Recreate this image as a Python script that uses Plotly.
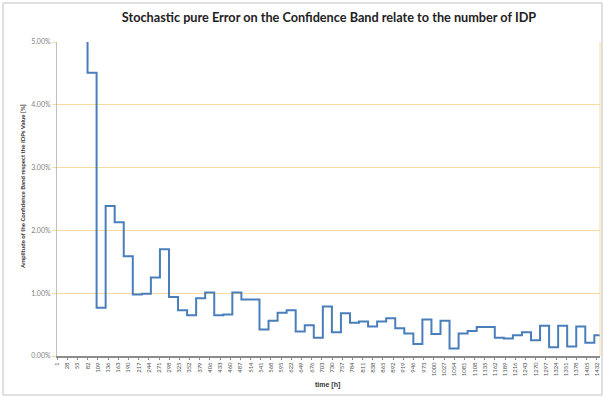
import plotly.graph_objects as go

# ---- data ----
# start hour of each daily step (category index on the time axis)
step_start_hours = list(range(58, 1440, 24))
# amplitude of confidence band per step, in percent (first value off-scale, clipped)
amplitude_pct = [
    7.00, 4.51, 0.77, 2.39, 2.13, 1.59, 0.98, 0.99, 1.25, 1.70,
    0.94, 0.73, 0.65, 0.92, 1.01, 0.65, 0.66, 1.01, 0.90, 0.90,
    0.42, 0.56, 0.69, 0.73, 0.39, 0.49, 0.29, 0.79, 0.38, 0.68,
    0.53, 0.55, 0.47, 0.55, 0.60, 0.44, 0.36, 0.19, 0.58, 0.35,
    0.56, 0.12, 0.36, 0.40, 0.46, 0.46, 0.29, 0.28, 0.33, 0.38,
    0.25, 0.48, 0.14, 0.48, 0.15, 0.47, 0.21, 0.33,
]
x_tick_labels = [1, 28, 55, 82, 109, 136, 163, 190, 217, 244, 271, 298, 325, 352,
                 379, 406, 433, 460, 487, 514, 541, 568, 595, 622, 649, 676, 703,
                 730, 757, 784, 811, 838, 865, 892, 919, 946, 973, 1000, 1027, 1054,
                 1081, 1108, 1135, 1162, 1189, 1216, 1243, 1270, 1297, 1324, 1351,
                 1378, 1405, 1432]
y_ticks = [0, 0.01, 0.02, 0.03, 0.04, 0.05]
last_hour = 1440

title_text = "Stochastic pure Error on the Confidence Band relate to the number of IDP"
y_title = "Amplitude of the Confidence Band respect the IDPs Value [%]"
x_title = "time [h]"

n = min(len(step_start_hours), len(amplitude_pct))
xs = [h - 0.5 for h in step_start_hours[:n]] + [last_hour + 0.5]
ys = [v / 100 for v in amplitude_pct[:n]] + [amplitude_pct[n - 1] / 100]

fig = go.Figure()
fig.add_trace(go.Scatter(
    x=xs, y=ys, mode="lines", line_shape="hv",
    line=dict(color="#4a7ebb", width=2),
    showlegend=False, hoverinfo="skip",
))

W, H = 603, 397
L, R, T, B = 57, 3, 42, 41
pw, ph = W - L - R, H - T - B

fig.update_layout(
    width=W, height=H,
    margin=dict(l=L, r=R, t=T, b=B, autoexpand=False),
    paper_bgcolor="white", plot_bgcolor="white",
    font=dict(family="Lato, Liberation Sans, sans-serif", color="#595959"),
    title=dict(text="<b>" + title_text + "</b>", x=329 / W, xref="container",
               xanchor="center", y=1 - 18 / H, yref="container", yanchor="middle",
               font=dict(size=12.7, color="#222222", family="Lato, sans-serif")),
    xaxis=dict(
        range=[0.5, last_hour + 0.5], tickmode="array",
        tickvals=x_tick_labels, ticktext=[str(v) for v in x_tick_labels],
        tickangle=-90, tickfont=dict(size=6, color="#555555"),
        showgrid=False, zeroline=False, automargin=False,
        showline=True, linecolor="#8c8c8c", linewidth=2,
        ticks="outside", ticklen=2, tickcolor="#8c8c8c",
        mirror=False,
    ),
    yaxis=dict(
        range=[0, 0.05], tickmode="array", tickvals=y_ticks,
        tickformat=".2%", tickfont=dict(size=7, color="#7f7f7f"),
        showgrid=True, gridcolor="#f6dc9e", gridwidth=1, automargin=False,
        zeroline=False, showline=True, linecolor="#bfbfbf", linewidth=1,
        ticks="outside", ticklen=4, tickcolor="#f6dc9e",
    ),
    annotations=[
        dict(text="<b>" + x_title + "</b>", xref="paper", yref="paper",
             x=(327 - L) / pw, y=(H - B - 385) / ph, showarrow=False,
             xanchor="center", yanchor="middle",
             font=dict(size=7, color="#333333", family="Liberation Sans, sans-serif")),
        dict(text="<b>" + y_title + "</b>", xref="paper", yref="paper",
             x=(22 - L) / pw, y=(H - B - 187) / ph, showarrow=False,
             textangle=-90, xanchor="center", yanchor="middle",
             font=dict(size=6, color="#333333")),
    ],
    shapes=[
        dict(type="line", xref="paper", yref="paper", x0=1, x1=1, y0=0, y1=1,
             line=dict(color="#f6dc9e", width=1)),
        dict(type="rect", xref="paper", yref="paper",
             x0=(3 - L) / pw, x1=(W - 1 - L) / pw,
             y0=(H - B - 395) / ph, y1=(H - B - 3) / ph,
             line=dict(color="#c0c0c0", width=1), layer="above"),
    ],
)

fig.write_html(
    "out.html",
    config={"displayModeBar": False},
    post_script="document.body.style.margin='0';document.body.style.padding='0';",
)
